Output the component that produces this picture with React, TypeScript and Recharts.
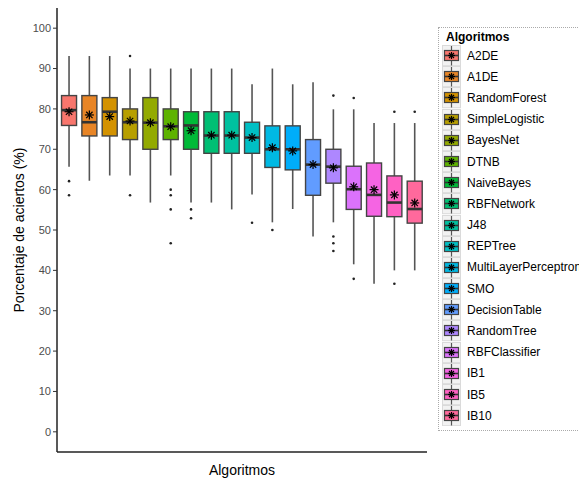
import { ComposedChart, Bar, XAxis, YAxis, Legend } from 'recharts';

const algorithms = [
  'A2DE', 'A1DE', 'RandomForest', 'SimpleLogistic', 'BayesNet', 'DTNB',
  'NaiveBayes', 'RBFNetwork', 'J48', 'REPTree', 'MultiLayerPerceptron', 'SMO',
  'DecisionTable', 'RandomTree', 'RBFClassifier', 'IB1', 'IB5', 'IB10',
];

// ggplot hue palette, 18 levels
const colors = [
  '#F8766D', '#E88526', '#D39200', '#B79F00', '#93AA00', '#5EB300',
  '#00BA38', '#00BF74', '#00C19F', '#00BFC4', '#00B9E3', '#00ADFA',
  '#619CFF', '#AE87FF', '#DB72FB', '#F564E3', '#FF61C3', '#FF699C',
];

const whiskerHigh = [93.1, 93.1, 93.1, 90, 90, 90, 90, 90, 90, 86.1, 90, 86.1, 86.6, 79.9, 79.9, 76.5, 76.5, 76.5];
const upperQuartile = [83.3, 83.3, 82.8, 80, 82.8, 80, 79.3, 79.3, 79.3, 76.7, 75.8, 75.8, 72.4, 70.0, 65.8, 66.6, 63.4, 62.1];
const medians = [79.7, 76.7, 79.3, 76.7, 76.6, 75.7, 75.9, 73.4, 73.4, 72.9, 70.0, 70.0, 66.2, 65.7, 60.1, 58.7, 56.8, 55.2];
const means = [79.3, 78.5, 78.1, 77.0, 76.6, 75.6, 74.6, 73.5, 73.5, 72.9, 70.4, 69.6, 66.2, 65.4, 60.7, 60.0, 58.7, 56.7];
const lowerQuartile = [75.9, 73.3, 73.3, 72.4, 70.0, 72.4, 70.0, 69.0, 69.0, 69.0, 65.5, 64.9, 58.6, 61.6, 55.1, 53.4, 53.3, 51.7];
const whiskerLow = [65.7, 62.2, 63.5, 63.5, 56.8, 63.5, 56.8, 56.8, 55.1, 58.8, 51.9, 55.2, 48.4, 51.9, 41.5, 36.7, 40.0, 40.0];
const outliers = [
  [62.1, 58.6], [], [], [93.1, 58.6], [], [60.0, 58.6, 55.1, 46.7],
  [55.1, 52.9], [], [], [51.8], [50.0], [],
  [], [83.3, 48.4, 46.7, 44.8], [82.7, 37.9], [], [79.3, 36.7], [79.3],
];

const yTicks = [0, 10, 20, 30, 40, 50, 60, 70, 80, 90, 100];

const data = algorithms.map((name, i) => ({
  name,
  lo: whiskerLow[i],
  q1: lowerQuartile[i],
  median: medians[i],
  q3: upperQuartile[i],
  hi: whiskerHigh[i],
  mean: means[i],
  outliers: outliers[i],
}));

const font = '"Liberation Sans", Arial, sans-serif';

function Asterisk({ cx, cy, r }: { cx: number; cy: number; r: number }) {
  const d = r * 0.7071;
  return (
    <g stroke="#000" strokeWidth={1.2}>
      <line x1={cx - r} x2={cx + r} y1={cy} y2={cy} />
      <line x1={cx} x2={cx} y1={cy - r} y2={cy + r} />
      <line x1={cx - d} x2={cx + d} y1={cy - d} y2={cy + d} />
      <line x1={cx - d} x2={cx + d} y1={cy + d} y2={cy - d} />
    </g>
  );
}

function BoxPlotShape(props: any) {
  const { x, y, width, height, payload } = props;
  const i = algorithms.indexOf(payload.name);
  // map a value to pixels using the bar's own (lo..hi) extent from the y scale
  const toY = (v: number) => y + (height * (payload.hi - v)) / (payload.hi - payload.lo);
  const cx = x + width / 2;
  const top = toY(payload.q3);
  const bottom = toY(payload.q1);
  const med = toY(payload.median);
  return (
    <g>
      <line x1={cx} x2={cx} y1={y} y2={y + height} stroke="#555" strokeWidth={1.6} />
      <rect x={x} y={top} width={width} height={bottom - top} fill={colors[i]} stroke="#444" strokeWidth={1.4} />
      <line x1={x} x2={x + width} y1={med} y2={med} stroke="#333" strokeWidth={2.6} />
      {payload.outliers.map((v: number, k: number) => (
        <circle key={k} cx={cx} cy={toY(v)} r={1.3} fill="#222" />
      ))}
      <Asterisk cx={cx} cy={toY(payload.mean)} r={4.5} />
    </g>
  );
}

function AlgorithmLegend() {
  return (
    <div style={{ border: '1px dotted #aaa', background: '#fff', padding: '2px 0 4px 3px', fontFamily: font, color: '#000' }}>
      <div style={{ fontWeight: 'bold', fontSize: 12, height: 15, lineHeight: '15px', paddingLeft: 4 }}>Algoritmos</div>
      {algorithms.map((name, i) => (
        <div key={name} style={{ display: 'flex', alignItems: 'center', height: 21.2 }}>
          <svg width={19} height={21.2} style={{ display: 'block' }}>
            <rect x={0.5} y={0.5} width={18} height={20.2} fill="#f2f2f2" stroke="#dadada" />
            <line x1={9.5} x2={9.5} y1={1} y2={20.5} stroke="#555" strokeWidth={1.2} />
            <rect x={2.5} y={5.5} width={14} height={10} fill={colors[i]} stroke="#444" strokeWidth={1.2} />
            <line x1={2.5} x2={16.5} y1={10.5} y2={10.5} stroke="#333" strokeWidth={1.6} />
            <Asterisk cx={9.5} cy={10.5} r={3.5} />
          </svg>
          <span style={{ marginLeft: 6, fontSize: 12, whiteSpace: 'nowrap' }}>{name}</span>
        </div>
      ))}
    </div>
  );
}

export default function App() {
  return (
    <div style={{ position: 'absolute', left: 0, top: 0, width: 579, height: 480, overflow: 'hidden', background: '#fff', fontFamily: font }}>
      <ComposedChart
        width={579}
        height={480}
        data={data}
        margin={{ top: 8, right: 152, bottom: 0, left: 0 }}
        barCategoryGap="12.5%"
      >
        <XAxis
          dataKey="name"
          height={28}
          padding={{ left: 2, right: 2 }}
          tick={false}
          tickLine={false}
          axisLine={{ stroke: '#222', strokeWidth: 1.5 }}
          label={{ value: 'Algoritmos', position: 'insideBottom', offset: 5, fill: '#000', fontSize: 14 }}
        />
        <XAxis xAxisId="top" orientation="top" dataKey="name" height={0} tick={false} tickLine={false} axisLine={{ stroke: '#e8e8e8' }} />
        <YAxis
          width={57}
          domain={[-5, 105]}
          ticks={yTicks}
          interval={0}
          tickSize={4}
          tick={{ fontSize: 11, fill: '#4d4d4d' }}
          tickLine={{ stroke: '#333' }}
          axisLine={{ stroke: '#222', strokeWidth: 1.5 }}
          label={{ value: 'Porcentaje de aciertos (%)', angle: -90, position: 'insideLeft', offset: 19, fill: '#000', fontSize: 14, style: { textAnchor: 'middle' } }}
        />
        <YAxis yAxisId="right" orientation="right" width={0} domain={[0, 1]} tick={false} tickLine={false} axisLine={{ stroke: '#b5b5b5', strokeDasharray: '2 2' }} />
        <Bar dataKey={(d: any) => [d.lo, d.hi]} shape={BoxPlotShape} isAnimationActive={false} legendType="none" />
        <Legend
          layout="vertical"
          align="center"
          verticalAlign="middle"
          content={<AlgorithmLegend />}
          wrapperStyle={{ left: 438, top: 27, width: 160 }}
        />
      </ComposedChart>
    </div>
  );
}
